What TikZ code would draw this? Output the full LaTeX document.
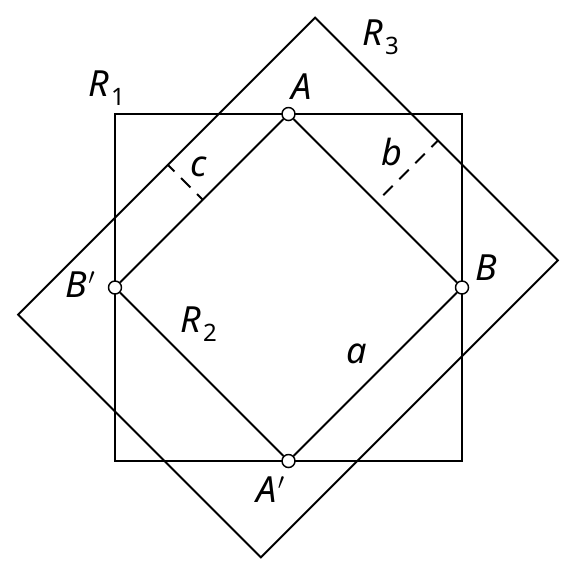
\documentclass[tikz,border=0pt]{standalone}
\usepackage{fontspec}
\setmainfont{Noto Sans}
\newcommand\sublbl[2]{\textit{#1}\kern0.04em\raisebox{-0.26em}{\fontsize{18}{18}\selectfont #2}}
\newcommand\prlbl[1]{\textit{#1}\kern0.02em$^{\prime}$}
\begin{document}
\begin{tikzpicture}[x=0.75pt,y=-0.75pt, line width=1.4pt,
  pt/.style={circle,draw,fill=white,minimum size=9.75pt,inner sep=0pt,line width=1.1pt},
  lab/.style={anchor=base west,inner sep=0pt,font=\fontsize{27}{27}\selectfont},
  dimline/.style={dash pattern=on 10pt off 7pt, dash phase=3pt}]
\useasboundingbox (0,0) rectangle (575,572);
% R1
\draw (115,114) rectangle (462,461);
% R3
\draw (315.1,17.6) -- (557.9,260.4) -- (260.9,557.4) -- (18.1,314.6) -- cycle;
% points
\node[pt] (A) at (288.5,114) {};
\node[pt] (B) at (462,287.5) {};
\node[pt] (A2) at (288.5,461) {};
\node[pt] (B2) at (115,287.5) {};
% R2
\draw (A) -- (B) -- (A2) -- (B2) -- (A);
% dimension lines
\coordinate (c1) at (167.85,164.85);
\coordinate (c2) at (202.5,199.5);
\coordinate (b1) at (376.5,202);
\coordinate (b2) at (438,140.5);
\draw[dimline] (c1) -- (c2);
\draw[dimline] (b2) -- (b1);
% labels
\node[lab] (lR1) at (88,96) {\sublbl{R}{1}};
\node[lab] (lR2) at (180,332) {\sublbl{R}{2}};
\node[lab] (lR3) at (362,45) {\sublbl{R}{3}};
\node[lab] (lA) at (291,99) {\textit{A}};
\node[lab] (lB) at (475,280) {\textit{B}};
\node[lab] (lA2) at (256,502) {\prlbl{A}};
\node[lab] (lB2) at (65,297) {\prlbl{B}};
\node[lab] (la) at (346,363) {\textit{a}};
\node[lab] (lb) at (381,165) {\textit{b}};
\node[lab] (lc) at (190,176) {\textit{c}};
\end{tikzpicture}
\end{document}
